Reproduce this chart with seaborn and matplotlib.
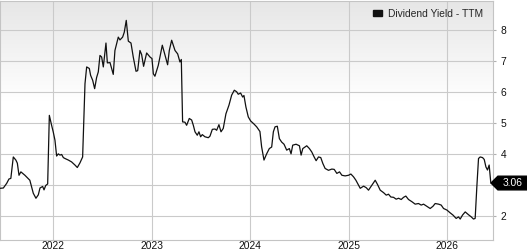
import numpy as np
import pandas as pd
import matplotlib
matplotlib.use("Agg")
import matplotlib.pyplot as plt
from matplotlib.patches import Patch, Polygon
import seaborn as sns

# ---- data (time as decimal years, dividend yield in %) ----
years = [
    2021.459, 2021.493, 2021.527, 2021.550, 2021.569, 2021.594, 2021.620, 2021.635, 2021.652, 2021.671,
    2021.712, 2021.762, 2021.797, 2021.824, 2021.848, 2021.865, 2021.892, 2021.906, 2021.923, 2021.943,
    2021.960, 2021.983, 2022.000, 2022.017, 2022.034, 2022.051, 2022.068, 2022.085, 2022.102, 2022.119,
    2022.153, 2022.186, 2022.220, 2022.244, 2022.271, 2022.298, 2022.322, 2022.339, 2022.366, 2022.379,
    2022.400, 2022.420, 2022.440, 2022.457, 2022.474, 2022.491, 2022.508, 2022.535, 2022.549, 2022.576,
    2022.609, 2022.626, 2022.660, 2022.677, 2022.704, 2022.721, 2022.741, 2022.762, 2022.789, 2022.812,
    2022.840, 2022.857, 2022.880, 2022.897, 2022.917, 2022.948, 2022.982, 2023.002, 2023.016, 2023.032,
    2023.066, 2023.107, 2023.134, 2023.161, 2023.178, 2023.202, 2023.236, 2023.263, 2023.286, 2023.300,
    2023.313, 2023.337, 2023.354, 2023.381, 2023.405, 2023.422, 2023.439, 2023.462, 2023.479, 2023.496,
    2023.513, 2023.540, 2023.574, 2023.591, 2023.615, 2023.642, 2023.659, 2023.682, 2023.703, 2023.726,
    2023.753, 2023.784, 2023.811, 2023.838, 2023.862, 2023.878, 2023.902, 2023.923, 2023.936, 2023.956,
    2023.980, 2024.004, 2024.038, 2024.065, 2024.098, 2024.115, 2024.139, 2024.166, 2024.193, 2024.217,
    2024.234, 2024.251, 2024.274, 2024.295, 2024.318, 2024.342, 2024.369, 2024.396, 2024.413, 2024.430,
    2024.464, 2024.498, 2024.515, 2024.532, 2024.572, 2024.599, 2024.623, 2024.647, 2024.667, 2024.691,
    2024.714, 2024.735, 2024.758, 2024.792, 2024.826, 2024.850, 2024.877, 2024.904, 2024.928, 2024.961,
    2024.995, 2025.019, 2025.046, 2025.070, 2025.097, 2025.114, 2025.148, 2025.175, 2025.198, 2025.232,
    2025.266, 2025.290, 2025.317, 2025.351, 2025.378, 2025.401, 2025.425, 2025.452, 2025.479, 2025.503,
    2025.530, 2025.554, 2025.577, 2025.604, 2025.638, 2025.672, 2025.706, 2025.733, 2025.757, 2025.791,
    2025.824, 2025.852, 2025.875, 2025.909, 2025.936, 2025.960, 2025.994, 2026.027, 2026.055, 2026.088,
    2026.112, 2026.129, 2026.153, 2026.180, 2026.213, 2026.241, 2026.264, 2026.281, 2026.298, 2026.315,
    2026.332, 2026.356, 2026.373, 2026.390, 2026.406, 2026.423, 2026.440,
]
yield_ttm = [
    2.89, 2.90, 3.05, 3.19, 3.21, 3.90, 3.80, 3.70, 3.31, 3.42,
    3.31, 3.15, 2.73, 2.57, 2.68, 2.90, 2.95, 2.84, 2.98, 3.03,
    5.24, 4.92, 4.70, 4.44, 3.93, 4.00, 3.96, 3.98, 3.88, 3.85,
    3.80, 3.74, 3.64, 3.56, 3.71, 3.90, 6.26, 6.80, 6.75, 6.53,
    6.37, 6.10, 6.46, 6.64, 7.17, 7.12, 6.80, 7.57, 6.93, 6.94,
    6.56, 7.33, 7.76, 7.67, 7.76, 7.92, 8.30, 7.63, 7.57, 7.12,
    6.66, 6.68, 7.33, 7.20, 6.82, 7.25, 7.12, 7.07, 6.58, 6.50,
    6.85, 7.50, 7.18, 6.87, 7.33, 7.66, 7.33, 7.22, 6.96, 7.04,
    5.03, 5.02, 4.92, 5.14, 5.09, 4.92, 4.71, 4.60, 4.71, 4.55,
    4.62, 4.55, 4.52, 4.57, 4.79, 4.80, 4.76, 4.94, 4.71, 4.82,
    5.29, 5.57, 5.89, 6.05, 6.00, 5.92, 5.96, 5.83, 5.88, 5.51,
    5.19, 5.06, 4.96, 4.87, 4.72, 4.23, 3.80, 4.00, 4.17, 4.22,
    4.71, 4.87, 4.89, 4.49, 4.38, 4.31, 4.12, 4.17, 4.00, 4.28,
    4.31, 4.26, 3.96, 4.17, 4.26, 4.17, 4.06, 3.90, 3.78, 3.90,
    3.88, 3.69, 3.53, 3.47, 3.51, 3.50, 3.37, 3.42, 3.31, 3.29,
    3.31, 3.35, 3.26, 3.15, 2.99, 2.89, 2.96, 2.91, 2.83, 2.99,
    3.15, 3.01, 2.83, 2.75, 2.67, 2.70, 2.61, 2.60, 2.54, 2.57,
    2.53, 2.60, 2.64, 2.53, 2.46, 2.38, 2.40, 2.35, 2.38, 2.31,
    2.24, 2.31, 2.40, 2.38, 2.35, 2.24, 2.19, 2.10, 2.03, 1.92,
    1.97, 1.90, 2.03, 2.13, 2.04, 1.97, 1.90, 1.92, 2.94, 3.85,
    3.90, 3.88, 3.82, 3.58, 3.48, 3.64, 3.06,
]
year_ticks = [2022, 2023, 2024, 2025, 2026]
y_ticks = [2, 3, 4, 5, 6, 7, 8]
y_tick_labels = ["2", "", "4", "5", "6", "7", "8"]  # "3" is hidden under the last-value tag
series_label = "Dividend Yield - TTM"
last_value = 3.06
x_range = (2021.459, 2026.457)
y_range = (1.225, 8.94)


def dec_to_dt(y):
    yi = int(np.floor(y))
    start = pd.Timestamp(year=yi, month=1, day=1)
    end = pd.Timestamp(year=yi + 1, month=1, day=1)
    return start + (end - start) * (y - yi)


df = pd.DataFrame({"date": [dec_to_dt(v) for v in years], "value": yield_ttm})

sns.set_theme(style="white")
plt.rcParams["font.family"] = ["Liberation Sans", "DejaVu Sans"]

fig = plt.figure(figsize=(5.27, 2.5), dpi=100)
ax = fig.add_axes([0.0, 0.04, 492.5 / 527, 0.958])

# gradient background (gray at top fading to white)
grad = np.linspace(0, 1, 256).reshape(-1, 1)
ax.imshow(grad, extent=(0, 1, 0.58, 1.0), transform=ax.transAxes,
          cmap=matplotlib.colors.LinearSegmentedColormap.from_list("g", ["#ffffff", "#e6e6e6"]),
          origin="lower", aspect="auto", zorder=0)

sns.lineplot(data=df, x="date", y="value", ax=ax, color="#111111", linewidth=0.9, zorder=3)

ax.set_xlim(dec_to_dt(x_range[0]), dec_to_dt(x_range[1]))
ax.set_ylim(*y_range)
ax.set_xticks([pd.Timestamp(year=y, month=1, day=1) for y in year_ticks])
ax.set_xticklabels([str(y) for y in year_ticks])
ax.set_yticks(y_ticks)
ax.set_yticklabels(y_tick_labels)
ax.yaxis.tick_right()
ax.set_xlabel("")
ax.set_ylabel("")

ax.grid(True, color="#cacaca", linewidth=0.8, zorder=1)
ax.set_axisbelow(True)
for s in ax.spines.values():
    s.set_color("#c4c4c4")
    s.set_linewidth(0.8)

ax.tick_params(axis="y", which="both", right=True, left=False, length=2.5, width=0.8,
               color="#b0b0b0", pad=3.5, labelsize=7.4, labelcolor="#111111")
ax.tick_params(axis="x", which="both", bottom=False, length=0, pad=1.0,
               labelsize=7.4, labelcolor="#111111")

# legend
ax.legend(handles=[Patch(facecolor="#111111", edgecolor="#111111")], labels=[series_label],
          loc="upper right", bbox_to_anchor=(0.997, 1.0), frameon=False, fontsize=7.4,
          handlelength=0.8, handleheight=0.45, handletextpad=0.6, borderaxespad=0.4)

# last-value tag
blend = matplotlib.transforms.blended_transform_factory(ax.transAxes, ax.transData)
h = 0.22
tag = Polygon([(0.997, last_value), (1.011, last_value + h), (1.075, last_value + h),
               (1.075, last_value - h), (1.011, last_value - h)],
              closed=True, transform=blend,
              facecolor="black", edgecolor="black", clip_on=False, zorder=5)
ax.add_patch(tag)
ax.text(1.041, last_value, f"{last_value:.2f}", color="white", fontsize=7.4, ha="center", va="center",
        transform=blend, clip_on=False, zorder=6)

fig.savefig("out.png", dpi=100)
